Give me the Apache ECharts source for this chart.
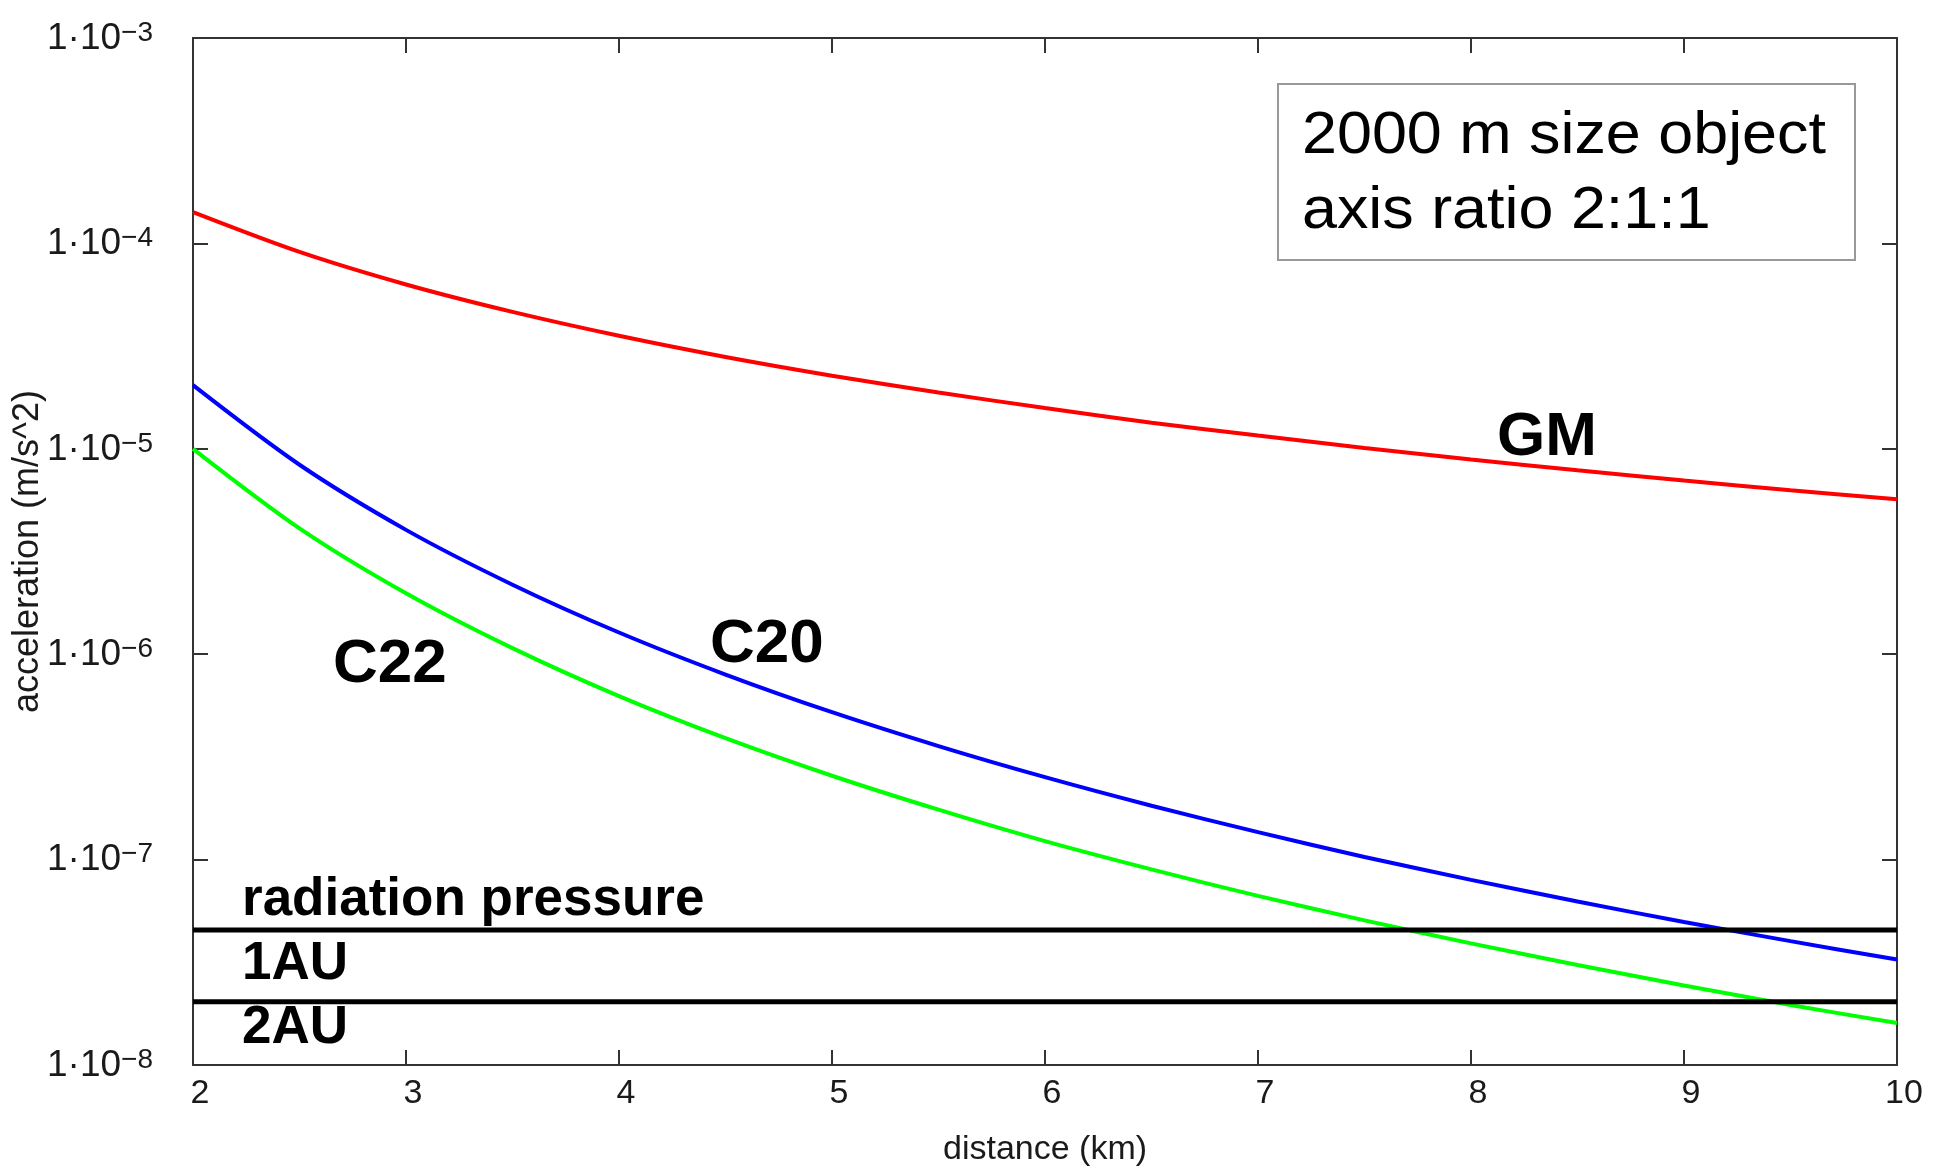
<!DOCTYPE html>
<html>
<head>
<meta charset="utf-8">
<script src="https://cdn.jsdelivr.net/npm/echarts@6/dist/echarts.min.js"></script>
<style>
  html, body { margin: 0; padding: 0; background: #fff; }
  #main { width: 1936px; height: 1170px; }
</style>
</head>
<body>
<div id="main"></div>
<script>
// distance in km, acceleration in m/s^2
const distances = [2, 2.5, 3, 3.5, 4, 4.5, 5, 5.5, 6, 6.5, 7, 7.5, 8, 8.5, 9, 9.5, 10];
const gmValues = [1.42e-4, 9.09e-5, 6.31e-5, 4.64e-5, 3.55e-5, 2.80e-5, 2.27e-5, 1.88e-5,
  1.58e-5, 1.34e-5, 1.16e-5, 1.01e-5, 8.88e-6, 7.86e-6, 7.01e-6, 6.29e-6, 5.68e-6];
const c20Values = [2.04e-5, 8.36e-6, 4.03e-6, 2.18e-6, 1.275e-6, 7.96e-7, 5.22e-7, 3.57e-7,
  2.52e-7, 1.83e-7, 1.36e-7, 1.03e-7, 7.97e-8, 6.25e-8, 4.97e-8, 4.01e-8, 3.26e-8];
const c22Values = [1.0e-5, 4.10e-6, 1.98e-6, 1.07e-6, 6.25e-7, 3.90e-7, 2.56e-7, 1.75e-7,
  1.23e-7, 8.96e-8, 6.66e-8, 5.06e-8, 3.91e-8, 3.07e-8, 2.44e-8, 1.96e-8, 1.6e-8];
// radiation pressure levels
const radiation1AU = 4.54e-8;
const radiation2AU = 2.03e-8;

const xTicks = [2, 3, 4, 5, 6, 7, 8, 9, 10];

const chart = echarts.init(document.getElementById('main'));

const pairs = (ys) => distances.map((x, i) => [x, ys[i]]);
const flat = (v) => [[distances[0], v], [distances[distances.length - 1], v]];

const axisColor = '#333';
const textColor = '#1a1a1a';
const font = '"Liberation Sans", Arial, sans-serif';

const tickStyle = { inside: true, length: 15, lineStyle: { color: axisColor, width: 2 } };
const lineStyle = { lineStyle: { color: axisColor, width: 2 } };

const option = {
  animation: false,
  backgroundColor: '#fff',
  grid: { left: 193, right: 39, top: 38, bottom: 105, outerBoundsMode: 'none' },
  xAxis: [
    {
      type: 'value',
      min: 2,
      max: 10,
      interval: 1,
      axisLine: lineStyle,
      axisTick: tickStyle,
      splitLine: { show: false },
      axisLabel: {
        color: textColor,
        fontSize: 34,
        fontFamily: font,
        margin: 12,
        padding: [0, 0, 0, 14],
        formatter: (v) => (xTicks.includes(v) ? String(v) : ''),
      },
      name: 'distance (km)',
      nameLocation: 'middle',
      nameGap: 68,
      nameMoveOverlap: false,
      nameTextStyle: { color: textColor, fontSize: 34, fontFamily: font },
    },
    {
      type: 'value',
      position: 'top',
      min: 2,
      max: 10,
      interval: 1,
      axisLine: lineStyle,
      axisTick: tickStyle,
      axisLabel: { show: false },
      splitLine: { show: false },
    },
  ],
  yAxis: [
    {
      type: 'log',
      logBase: 10,
      min: 1e-8,
      max: 1e-3,
      axisLine: lineStyle,
      axisTick: tickStyle,
      splitLine: { show: false },
      axisLabel: {
        margin: 40,
        formatter: (v) => {
          const exp = Math.round(Math.log10(v));
          return '{b|1·10}{s|−' + (-exp) + '}';
        },
        rich: {
          b: { fontSize: 37, lineHeight: 38, color: textColor, fontFamily: font, verticalAlign: 'bottom' },
          s: { fontSize: 28, lineHeight: 28, color: textColor, fontFamily: font, verticalAlign: 'top', padding: [0, 0, 22, 0] },
        },
      },
      name: 'acceleration (m/s^2)',
      nameLocation: 'middle',
      nameGap: 147,
      nameMoveOverlap: false,
      nameTextStyle: { color: textColor, fontSize: 36, fontFamily: font },
    },
    {
      type: 'log',
      logBase: 10,
      position: 'right',
      min: 1e-8,
      max: 1e-3,
      axisLine: lineStyle,
      axisTick: tickStyle,
      axisLabel: { show: false },
      splitLine: { show: false },
    },
  ],
  series: [
    {
      name: 'GM',
      type: 'line',
      data: pairs(gmValues),
      smooth: 0.3,
      showSymbol: false,
      lineStyle: { color: '#ff0000', width: 4 },
    },
    {
      name: 'C20',
      type: 'line',
      data: pairs(c20Values),
      smooth: 0.3,
      showSymbol: false,
      lineStyle: { color: '#0000ff', width: 4 },
    },
    {
      name: 'C22',
      type: 'line',
      data: pairs(c22Values),
      smooth: 0.3,
      showSymbol: false,
      lineStyle: { color: '#00ff00', width: 4 },
    },
    {
      name: '1AU',
      type: 'line',
      data: flat(radiation1AU),
      showSymbol: false,
      lineStyle: { color: '#000', width: 5 },
    },
    {
      name: '2AU',
      type: 'line',
      data: flat(radiation2AU),
      showSymbol: false,
      lineStyle: { color: '#000', width: 5 },
    },
  ],
  graphic: [
    {
      type: 'rect',
      shape: { x: 1278, y: 84, width: 577, height: 176 },
      style: { fill: '#fff', stroke: '#999', lineWidth: 2 },
    },
    {
      type: 'text',
      x: 1302,
      y: 137,
      scaleX: 1.065,
      style: { x: 0, y: 0, text: '2000 m size object', font: '59px ' + font, fill: '#000', verticalAlign: 'middle' },
    },
    {
      type: 'text',
      x: 1302,
      y: 212,
      scaleX: 1.065,
      style: { x: 0, y: 0, text: 'axis ratio 2:1:1', font: '59px ' + font, fill: '#000', verticalAlign: 'middle' },
    },
    {
      type: 'text',
      style: { x: 1497, y: 438, text: 'GM', font: 'bold 62px ' + font, fill: '#000', verticalAlign: 'middle' },
    },
    {
      type: 'text',
      style: { x: 710, y: 645, text: 'C20', font: 'bold 62px ' + font, fill: '#000', verticalAlign: 'middle' },
    },
    {
      type: 'text',
      style: { x: 333, y: 665, text: 'C22', font: 'bold 62px ' + font, fill: '#000', verticalAlign: 'middle' },
    },
    {
      type: 'text',
      style: { x: 242, y: 900, text: 'radiation pressure', font: 'bold 53px ' + font, fill: '#000', verticalAlign: 'middle' },
    },
    {
      type: 'text',
      style: { x: 242, y: 964, text: '1AU', font: 'bold 53px ' + font, fill: '#000', verticalAlign: 'middle' },
    },
    {
      type: 'text',
      style: { x: 242, y: 1028, text: '2AU', font: 'bold 53px ' + font, fill: '#000', verticalAlign: 'middle' },
    },
  ],
};

chart.setOption(option);
</script>
</body>
</html>
